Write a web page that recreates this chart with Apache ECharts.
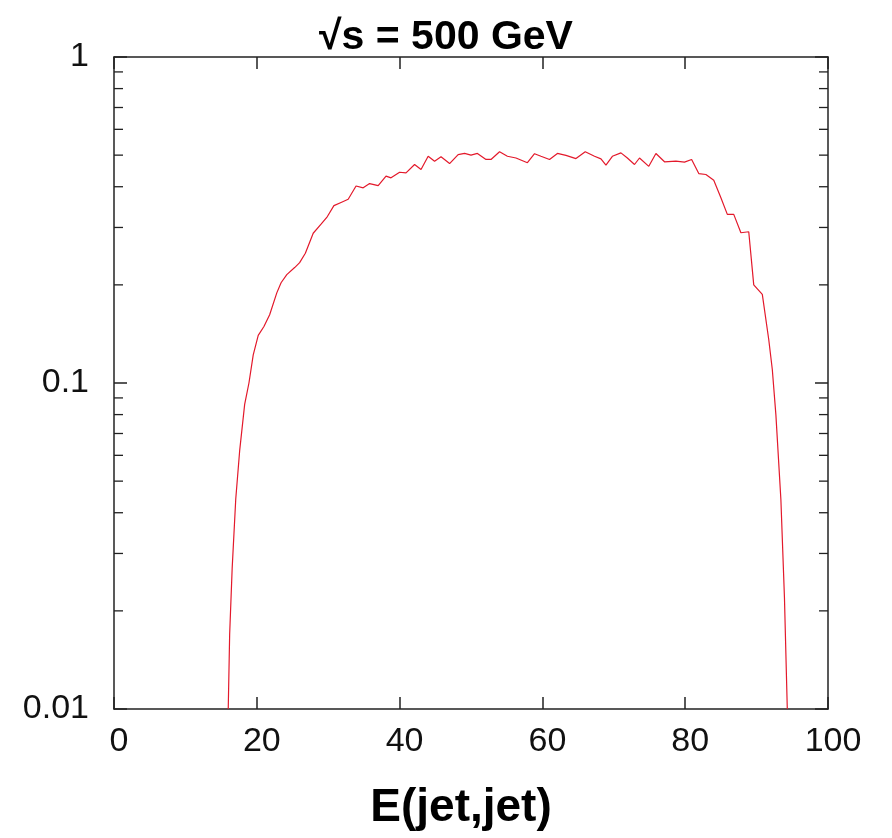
<!DOCTYPE html>
<html>
<head>
<meta charset="utf-8">
<script src="https://cdn.jsdelivr.net/npm/echarts@6/dist/echarts.min.js"></script>
<style>
html,body{margin:0;padding:0;background:#fff;}
#chart{width:892px;height:838px;}
</style>
</head>
<body>
<div id="chart"></div>
<script>
// Jet-pair energy (GeV) and distribution value
var energies = [16.0,16.2,16.55,17.05,17.6,18.3,18.9,19.5,20.2,21.0,21.8,22.8,23.4,24.2,25.3,26.0,26.8,27.9,29.0,29.8,30.8,31.8,32.8,33.9,34.9,35.8,37.0,38.1,38.8,40.0,40.9,42.1,43.0,44.0,44.9,45.8,47.0,48.2,49.1,50.0,50.9,52.1,52.8,54.0,55.1,56.3,57.9,58.9,59.8,61.0,62.1,63.3,64.7,66.0,67.3,68.2,68.9,69.8,71.0,71.9,72.9,73.6,74.9,75.9,77.1,78.7,79.9,80.9,81.9,82.9,84.0,85.0,85.9,86.8,87.8,88.9,89.6,90.8,91.7,92.2,92.7,93.4,93.9,94.3];
var values = [0.010,0.017,0.027,0.044,0.062,0.086,0.100,0.122,0.140,0.149,0.162,0.189,0.203,0.215,0.226,0.234,0.250,0.288,0.307,0.322,0.350,0.358,0.366,0.402,0.397,0.409,0.403,0.431,0.426,0.443,0.441,0.468,0.452,0.496,0.479,0.494,0.471,0.502,0.506,0.500,0.506,0.485,0.485,0.512,0.496,0.490,0.474,0.505,0.496,0.485,0.506,0.499,0.488,0.512,0.496,0.487,0.466,0.496,0.508,0.490,0.468,0.490,0.462,0.506,0.477,0.479,0.476,0.485,0.439,0.436,0.419,0.370,0.329,0.329,0.289,0.291,0.200,0.187,0.136,0.110,0.080,0.044,0.022,0.010];
var xTicks = [0,20,40,60,80,100];
var yMinorTicks = [0.02,0.03,0.04,0.05,0.06,0.07,0.08,0.09,0.2,0.3,0.4,0.5,0.6,0.7,0.8,0.9];
var titleText = '\u221As = 500 GeV';
var xTitle = 'E(jet,jet)';

var font = "'Liberation Sans', Arial, sans-serif";
var axisColor = '#222';

var chart = echarts.init(document.getElementById('chart'), null, {renderer: 'canvas'});

var lineData = energies.map(function (e, i) { return [e, values[i]]; });
var minorData = yMinorTicks.map(function (v) { return [xTicks[0], v]; });

var option = {
  backgroundColor: '#fff',
  animation: false,
  title: {
    text: titleText,
    left: 'center',
    top: 12,
    textStyle: {fontFamily: font, fontWeight: 'bold', fontSize: 41, color: '#000'}
  },
  grid: {left: 114, right: 64, top: 57, bottom: 129, containLabel: false},
  xAxis: [{
    type: 'value',
    min: 0, max: 100, interval: 20,
    position: 'bottom',
    name: xTitle,
    nameLocation: 'middle',
    nameGap: 76,
    nameTextStyle: {fontFamily: font, fontWeight: 'bold', fontSize: 46, color: '#000', padding: [0, 20, 0, 0]},
    axisLine: {show: true, onZero: false, lineStyle: {color: axisColor, width: 1.5}},
    axisTick: {show: true, inside: true, length: 12, lineStyle: {color: axisColor, width: 1.5}},
    axisLabel: {fontFamily: font, fontSize: 34, color: '#111', margin: 16, padding: [0, 0, 0, 10]},
    splitLine: {show: false}
  }, {
    type: 'value',
    min: 0, max: 100, interval: 20,
    position: 'top',
    axisLine: {show: true, onZero: false, lineStyle: {color: axisColor, width: 1.5}},
    axisTick: {show: true, inside: true, length: 12, lineStyle: {color: axisColor, width: 1.5}},
    axisLabel: {show: false},
    splitLine: {show: false}
  }],
  yAxis: [{
    type: 'log',
    logBase: 10,
    min: 0.01, max: 1,
    position: 'left',
    axisLine: {show: true, onZero: false, lineStyle: {color: axisColor, width: 1.5}},
    axisTick: {show: true, inside: true, length: 13, lineStyle: {color: axisColor, width: 1.5}},
    axisLabel: {fontFamily: font, fontSize: 34, color: '#111', margin: 25,
      formatter: function (v) { return String(+v.toPrecision(3)); }},
    splitLine: {show: false}
  }, {
    type: 'log',
    logBase: 10,
    min: 0.01, max: 1,
    position: 'right',
    axisLine: {show: true, onZero: false, lineStyle: {color: axisColor, width: 1.5}},
    axisTick: {show: true, inside: true, length: 13, lineStyle: {color: axisColor, width: 1.5}},
    axisLabel: {show: false},
    splitLine: {show: false}
  }],
  series: [{
    type: 'custom',
    xAxisIndex: 0,
    yAxisIndex: 0,
    silent: true,
    clip: false,
    data: minorData,
    renderItem: function (params, api) {
      var v = api.value(1);
      var pl = api.coord([xTicks[0], v]);
      var pr = api.coord([xTicks[xTicks.length - 1], v]);
      var len = 9;
      var st = {stroke: axisColor, lineWidth: 1.3};
      return {
        type: 'group',
        children: [
          {type: 'line', shape: {x1: pl[0], y1: pl[1], x2: pl[0] + len, y2: pl[1]}, style: st},
          {type: 'line', shape: {x1: pr[0], y1: pr[1], x2: pr[0] - len, y2: pr[1]}, style: st}
        ]
      };
    }
  }, {
    type: 'line',
    xAxisIndex: 0,
    yAxisIndex: 0,
    data: lineData,
    showSymbol: false,
    symbol: 'none',
    smooth: false,
    clip: true,
    lineStyle: {color: '#e3192b', width: 1.2}
  }]
};
chart.setOption(option);
</script>
</body>
</html>
